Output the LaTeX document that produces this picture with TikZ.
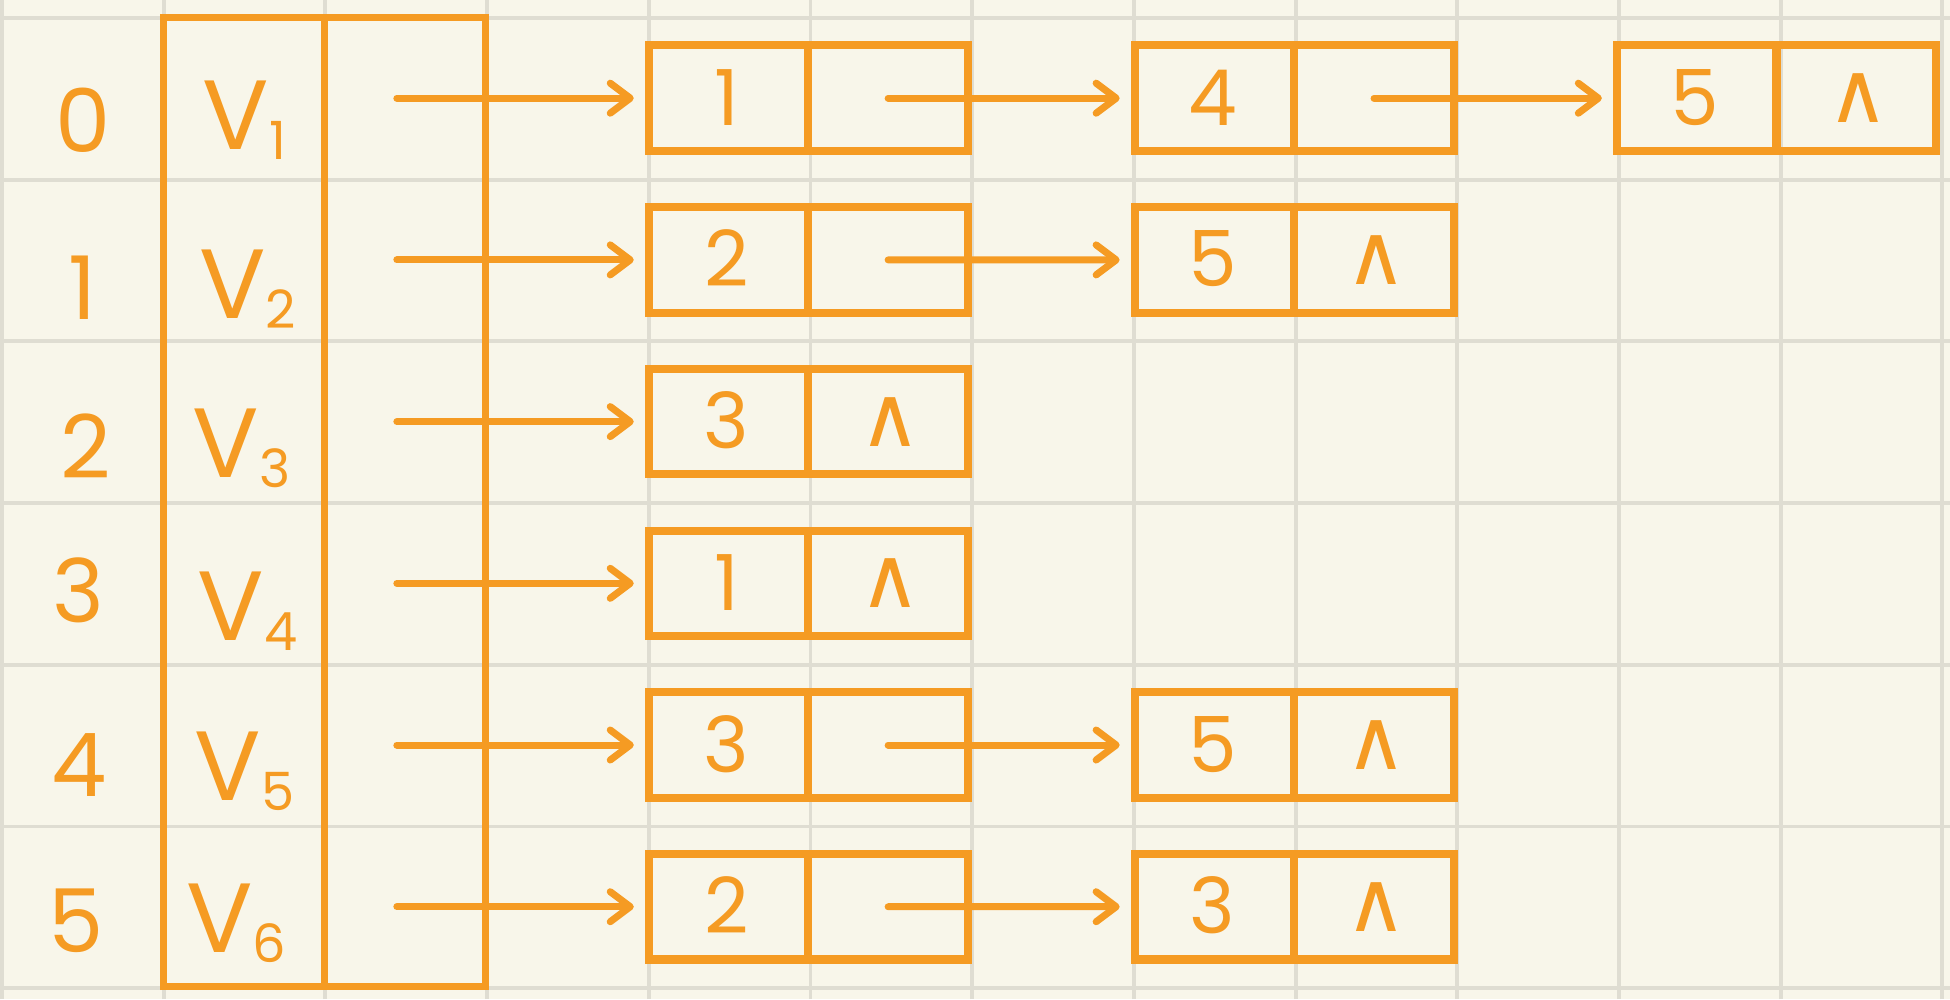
\documentclass[tikz,border=0pt]{standalone}
\usepackage{fontspec}
\setmainfont{Poppins}
\newfontfamily\ptrfont{DejaVu Sans}
\usetikzlibrary{calc, shapes, positioning, arrows.meta}
\definecolor{myorange}{RGB}{245,155,35}
\definecolor{mypaper}{RGB}{248,246,234}
\definecolor{mygrid}{RGB}{223,221,210}
\newcommand{\nullptr}{{\ptrfont\fontsize{24}{24}\selectfont ∧}}
\newcommand{\vexname}[1]{V\raisebox{-1mm}{\fontsize{15}{15}\selectfont #1}}
\tikzset{
  vexlist/.style = {rectangle split, rectangle split horizontal, rectangle split parts=2,
                    draw=myorange, line width=2pt, inner sep=0pt, outer sep=0pt,
                    text width=1.617cm-1.25pt, text height=9.702cm-0.5pt, text depth=0pt},
  listnode/.style = {rectangle split, rectangle split horizontal, rectangle split parts=2,
                     draw=myorange, line width=2.3pt, inner sep=0pt, outer sep=0pt,
                     text width=1.617cm-1.75pt, text height=0.812cm-0.4pt, text depth=0.271cm-0.4pt,
                     align=center, text=myorange, font=\fontsize{22}{26}\selectfont},
  idxlabel/.style = {text=myorange, inner sep=0pt, font=\fontsize{25}{30}\selectfont},
  vexlabel/.style = {text=myorange, inner sep=0pt, font=\fontsize{28}{32}\selectfont},
  ptr/.style = {draw=myorange, line width=2pt, line cap=round,
                -{Straight Barb[length=2mm, width=3mm, round]}, shorten >=1.5mm}
}

\begin{document}
\begin{tikzpicture}[x=1.617cm, y=1.617cm]

% paper and grid
\useasboundingbox (-0.012,0.111) rectangle (12.047,-6.067);
\fill[mypaper] (-0.012,0.111) rectangle (12.047,-6.067);
\draw[mygrid, line width=1.1pt, step=1] (-0.012,0.111) grid (12.047,-6.067);

% vertex table
\node[vexlist, anchor=north west] (vtab) at (1,0) {\nodepart{two}};
\coordinate (hptr) at ($(vtab.one split north)!.45!(vtab.north east)$);

\node[idxlabel] (i0) at (0.50,-0.63) {0};
\node[idxlabel] (i1) at (0.50,-1.67) {1};
\node[idxlabel] (i2) at (0.52,-2.65) {2};
\node[idxlabel] (i3) at (0.47,-3.54) {3};
\node[idxlabel] (i4) at (0.48,-4.62) {4};
\node[idxlabel] (i5) at (0.46,-5.58) {5};

\node[vexlabel] (v0) at (1.50,-0.63) {\vexname{1}};
\node[vexlabel] (v1) at (1.52,-1.68) {\vexname{2}};
\node[vexlabel] (v2) at (1.48,-2.66) {\vexname{3}};
\node[vexlabel] (v3) at (1.52,-3.67) {\vexname{4}};
\node[vexlabel] (v4) at (1.50,-4.66) {\vexname{5}};
\node[vexlabel] (v5) at (1.45,-5.60) {\vexname{6}};

% row 0
\node[listnode, anchor=north west] (a0) at (4,-0.17) {1 \nodepart{two}};
\node[listnode, right=1.667cm of a0] (b0) {4 \nodepart{two}};
\node[listnode, right=1.63cm of b0] (c0) {5 \nodepart{two} \nullptr};
% row 1
\node[listnode, anchor=north west] (a1) at (4,-1.17) {2 \nodepart{two}};
\node[listnode, right=1.667cm of a1] (b1) {5 \nodepart{two} \nullptr};
% row 2
\node[listnode, anchor=north west] (a2) at (4,-2.17) {3 \nodepart{two} \nullptr};
% row 3
\node[listnode, anchor=north west] (a3) at (4,-3.17) {1 \nodepart{two} \nullptr};
% row 4
\node[listnode, anchor=north west] (a4) at (4,-4.17) {3 \nodepart{two}};
\node[listnode, right=1.667cm of a4] (b4) {5 \nodepart{two} \nullptr};
% row 5
\node[listnode, anchor=north west] (a5) at (4,-5.17) {2 \nodepart{two}};
\node[listnode, right=1.667cm of a5] (b5) {3 \nodepart{two} \nullptr};

% pointers
\draw[ptr] (hptr |- a0.west) -- (a0.west);
\draw[ptr] (hptr |- a1.west) -- (a1.west);
\draw[ptr] (hptr |- a2.west) -- (a2.west);
\draw[ptr] (hptr |- a3.west) -- (a3.west);
\draw[ptr] (hptr |- a4.west) -- (a4.west);
\draw[ptr] (hptr |- a5.west) -- (a5.west);

\draw[ptr] ($(a0.one split)!.5!(a0.east)$) -- (b0.west);
\draw[ptr] ($(b0.one split)!.5!(b0.east)$) -- (c0.west);
\draw[ptr] ($(a1.one split)!.5!(a1.east)$) -- (b1.west);
\draw[ptr] ($(a4.one split)!.5!(a4.east)$) -- (b4.west);
\draw[ptr] ($(a5.one split)!.5!(a5.east)$) -- (b5.west);

\end{tikzpicture}
\end{document}
